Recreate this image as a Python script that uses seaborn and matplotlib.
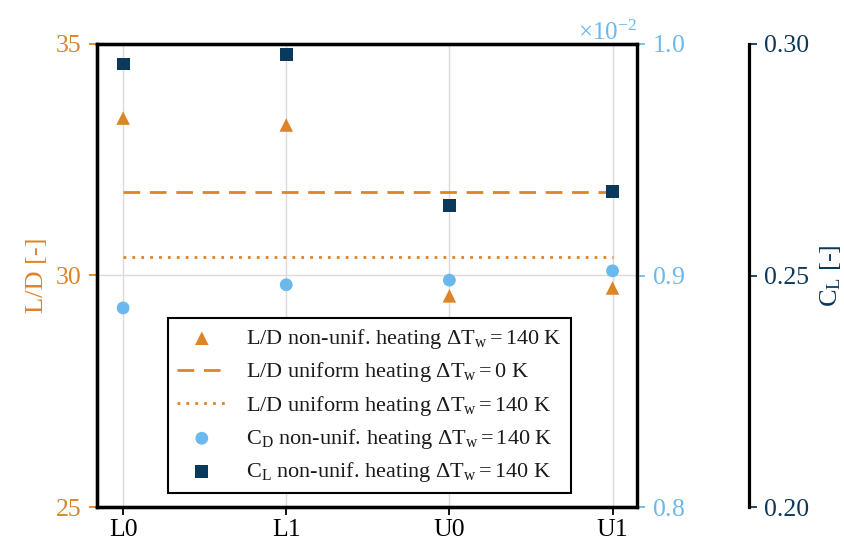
import matplotlib
matplotlib.use("Agg")
import matplotlib.pyplot as plt
import seaborn as sns
import numpy as np
import pandas as pd
from matplotlib.ticker import ScalarFormatter

# Configurations
configs = ["L0", "L1", "U0", "U1"]

# Lift-to-drag ratio, non-uniform heating dT_w = 140 K
ld_nonunif = [33.40, 33.25, 29.56, 29.73]
# Lift-to-drag ratio, uniform heating references
ld_unif_0K = 31.80
ld_unif_140K = 30.40
# Drag coefficient, non-uniform heating
cd_nonunif = [0.00886, 0.00896, 0.00898, 0.00902]
# Lift coefficient, non-uniform heating
cl_nonunif = [0.2957, 0.2978, 0.2652, 0.2682]

ORANGE = "#DD8427"
LBLUE = "#6BB8EC"
NAVY = "#0B395C"

sns.set_theme(style="white")
plt.rcParams["font.family"] = ["Liberation Serif", "DejaVu Serif"]
plt.rcParams["mathtext.fontset"] = "custom"
plt.rcParams["mathtext.rm"] = "Liberation Serif"
plt.rcParams["mathtext.it"] = "Liberation Serif:italic"

fig = plt.figure(figsize=(8.45, 5.47), dpi=100)
ax = fig.add_axes([97 / 845, 1 - 507 / 547, 540 / 845, 463 / 547])
ax2 = ax.twinx()
ax3 = ax.twinx()
ax3.spines["right"].set_position(("axes", 1.207))

df = pd.DataFrame({"config": configs, "ld": ld_nonunif, "cd": cd_nonunif,
                   "cl": cl_nonunif,
                   "u0": [ld_unif_0K] * len(configs),
                   "u140": [ld_unif_140K] * len(configs)})

lab_tri = r"L/D non-unif. heating $\Delta\mathrm{T_w}=140$ K"
lab_dash = r"L/D uniform heating $\Delta\mathrm{T_w}=0$ K"
lab_dot = r"L/D uniform heating $\Delta\mathrm{T_w}=140$ K"
lab_cd = r"$\mathrm{C_D}$ non-unif. heating $\Delta\mathrm{T_w}=140$ K"
lab_cl = r"$\mathrm{C_L}$ non-unif. heating $\Delta\mathrm{T_w}=140$ K"

sns.scatterplot(data=df, x="config", y="ld", marker="^", s=95, color=ORANGE,
                edgecolor="none", ax=ax, label=lab_tri, zorder=3)
sns.lineplot(data=df, x="config", y="u0", color=ORANGE, lw=2.0, ax=ax,
             label=lab_dash, dashes=False, zorder=3)
ax.lines[-1].set_dashes([6, 3.5])
sns.lineplot(data=df, x="config", y="u140", color=ORANGE, lw=2.0, ax=ax,
             label=lab_dot, zorder=3)
ax.lines[-1].set_linestyle((0, (1, 2.2)))
sns.scatterplot(data=df, x="config", y="cd", marker="o", s=85, color=LBLUE,
                edgecolor="none", ax=ax2, label=lab_cd, zorder=3)
sns.scatterplot(data=df, x="config", y="cl", marker="s", s=85, color=NAVY,
                edgecolor="none", ax=ax3, label=lab_cl, zorder=3)

for a in (ax, ax2, ax3):
    if a.get_legend() is not None:
        a.get_legend().remove()
    a.set_xlabel("")
    for sp in a.spines.values():
        sp.set_color("black")
        sp.set_linewidth(2.3)

ax.set_xlim(-0.16, 3.15)
ax.set_ylim(25, 35)
ax.set_yticks([25, 30, 35])
ax2.set_ylim(0.008, 0.010)
ax2.set_yticks([0.008, 0.009, 0.010])
ax3.set_ylim(0.20, 0.30)
ax3.set_yticks([0.20, 0.25, 0.30])
ax3.set_yticklabels(["0.20", "0.25", "0.30"])

fmt = ScalarFormatter(useMathText=True)
fmt.set_powerlimits((-1, 1))
ax2.yaxis.set_major_formatter(fmt)
ax2.yaxis.get_offset_text().set_color(LBLUE)
ax2.yaxis.get_offset_text().set_fontsize(18)

ax.grid(True, color="#DADADA", lw=1.0)
ax.set_axisbelow(True)

TS = 18.5
ax.tick_params(axis="x", colors="black", labelsize=TS, length=6, width=1.3,
               direction="out", bottom=True, pad=3)
ax.tick_params(axis="y", colors=ORANGE, labelsize=TS, length=6, width=1.3,
               direction="out", left=True, pad=5)
ax2.tick_params(axis="y", colors=LBLUE, labelsize=TS, length=6, width=1.3,
                direction="out", right=True, pad=5)
ax3.tick_params(axis="y", colors=NAVY, labelsize=TS, length=6, width=1.3,
                direction="out", right=True, pad=5)

ax.set_ylabel("L/D [-]", color=ORANGE, fontsize=19, labelpad=6)
ax2.set_ylabel("")
ax3.set_ylabel(r"$\mathrm{C_L}$ [-]", color=NAVY, fontsize=19, labelpad=6)

handles, labels = [], []
for a in (ax, ax2, ax3):
    h, l = a.get_legend_handles_labels()
    handles += h
    labels += l
leg = ax3.legend(handles, labels, loc="lower center", bbox_to_anchor=(0.505, 0.02),
                 fontsize=16, frameon=True, fancybox=False, framealpha=1,
                 edgecolor="black", handlelength=2.2, labelspacing=0.42,
                 borderpad=0.4, handletextpad=0.9, borderaxespad=0.2)
leg.get_frame().set_linewidth(1.5)
for t in leg.get_texts():
    t.set_color("#1a1a1a")

fig.savefig("out.png", dpi=100)
